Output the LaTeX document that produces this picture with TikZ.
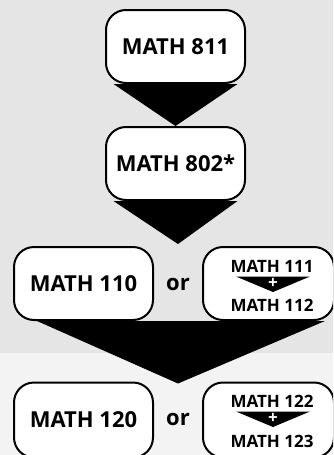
\documentclass[tikz,border=0pt]{standalone}
\usepackage{fontspec}
\setmainfont{Open Sans}
\usetikzlibrary{calc}
\pgfdeclarelayer{bg}
\pgfdeclarelayer{tri}
\pgfsetlayers{bg,tri,main}
\definecolor{bgtop}{RGB}{229,229,229}
\definecolor{bgbot}{RGB}{243,243,243}
\begin{document}
\begin{tikzpicture}[x=1pt,y=-1pt,
  box/.style={draw=black, line width=2pt, fill=white, rounded corners=20pt, inner sep=0pt,
    minimum height=73pt, font=\bfseries\fontsize{22}{24}\selectfont},
  small/.style={inner sep=0pt, text height=12pt, text depth=0pt, font=\bfseries\fontsize{17}{18}\selectfont},
  ortext/.style={inner sep=0pt, font=\bfseries\fontsize{22}{22}\selectfont},
  plus/.style={inner sep=0pt, text height=9pt, text depth=0pt, text=white, font=\bfseries\fontsize{17}{17}\selectfont},
  arrowfill/.style={fill=black}]
\useasboundingbox (0,0) rectangle (333,455);
\clip (0,0) rectangle (333,455);
\begin{pgfonlayer}{bg}
\fill[bgtop] (0,0) rectangle (333,353);
\fill[bgbot] (0,353) rectangle (333,455);
\end{pgfonlayer}

\node[box, minimum width=139pt] (n811) at (175.5,46.5) {MATH 811};
\node[box, minimum width=139pt] (n802) at (175.5,163.5) {MATH 802*};
\node[box, minimum width=139pt] (n110) at (83.5,283.5) {MATH 110};
\node[box, minimum width=131pt] (n111) at (268.5,283.5) {};
\node[box, minimum width=139pt, minimum height=75pt] (n120) at (83.5,420) {MATH 120};
\node[box, minimum width=131pt, minimum height=75pt] (n122) at (268.5,420) {};

\node[ortext] (or1) at (178,284) {or};
\node[ortext] (or2) at (178,419) {or};

\node[small] (t111) at (272,266) {MATH 111};
\node[small] (t112) at (272,305.5) {MATH 112};
\fill[arrowfill] (236,276.5) -- (310,276.5) -- (273,292) -- cycle;
\node[plus] (p1) at (273,283.5) {+};

\node[small] (t122) at (272,401) {MATH 122};
\node[small] (t123) at (272,441) {MATH 123};
\fill[arrowfill] (236,411.5) -- (310,411.5) -- (273,427) -- cycle;
\node[plus] (p2) at (273,418.5) {+};

\begin{pgfonlayer}{tri}
\fill[arrowfill] ($(n811.south)+(-62,0)$) -- ($(n811.south)+(62,0)$) -- (n802.north) -- cycle;
\fill[arrowfill] ($(n802.south)+(-62,0)$) -- ($(n802.south)+(62,0)$) -- ($(n110.north east)!0.5!(n111.north west)+(0,-2)$) -- cycle;
\fill[arrowfill] ($(n110.south west)+(24,0)$) -- ($(n111.south east)+(-10,0)$) -- ($(n120.north east)!0.5!(n122.north west)+(0,2)$) -- cycle;
\end{pgfonlayer}
\end{tikzpicture}
\end{document}
